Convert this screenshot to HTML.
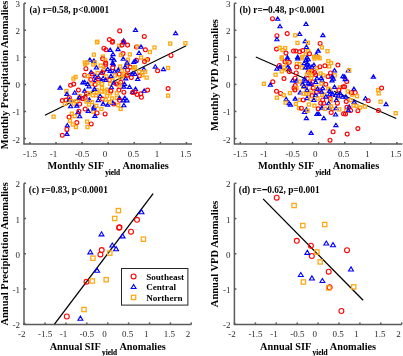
<!DOCTYPE html>
<html><head><meta charset="utf-8"><style>
html,body{margin:0;padding:0;background:#fff;width:403px;height:356px;overflow:hidden}
svg{display:block;will-change:transform;filter:blur(0.35px);font-family:"Liberation Serif",serif}
</style></head><body>
<svg width="403" height="356" viewBox="0 0 403 356">
<line x1="24.00" y1="3.20" x2="24.00" y2="144.40" stroke="#5a5a5a" stroke-width="1.5"/>
<line x1="23.50" y1="143.90" x2="192.00" y2="143.90" stroke="#5a5a5a" stroke-width="1.5"/>
<line x1="24.00" y1="3.22" x2="26.00" y2="3.22" stroke="#5a5a5a" stroke-width="1.5"/>
<text x="20.00" y="7.22" font-size="9" text-anchor="end" font-weight="normal" fill="#2a2a2a" >3</text>
<line x1="24.00" y1="30.28" x2="26.00" y2="30.28" stroke="#5a5a5a" stroke-width="1.5"/>
<text x="20.00" y="34.28" font-size="9" text-anchor="end" font-weight="normal" fill="#2a2a2a" >2</text>
<line x1="24.00" y1="57.34" x2="26.00" y2="57.34" stroke="#5a5a5a" stroke-width="1.5"/>
<text x="20.00" y="61.34" font-size="9" text-anchor="end" font-weight="normal" fill="#2a2a2a" >1</text>
<line x1="24.00" y1="84.40" x2="26.00" y2="84.40" stroke="#5a5a5a" stroke-width="1.5"/>
<text x="20.00" y="88.40" font-size="9" text-anchor="end" font-weight="normal" fill="#2a2a2a" >0</text>
<line x1="24.00" y1="111.46" x2="26.00" y2="111.46" stroke="#5a5a5a" stroke-width="1.5"/>
<text x="20.00" y="115.46" font-size="9" text-anchor="end" font-weight="normal" fill="#2a2a2a" >-1</text>
<line x1="24.00" y1="138.52" x2="26.00" y2="138.52" stroke="#5a5a5a" stroke-width="1.5"/>
<text x="20.00" y="142.52" font-size="9" text-anchor="end" font-weight="normal" fill="#2a2a2a" >-2</text>
<line x1="29.90" y1="143.90" x2="29.90" y2="141.90" stroke="#5a5a5a" stroke-width="1.5"/>
<text x="30.00" y="156.90" font-size="9" text-anchor="middle" font-weight="normal" fill="#2a2a2a" >-1.5</text>
<line x1="56.00" y1="143.90" x2="56.00" y2="141.90" stroke="#5a5a5a" stroke-width="1.5"/>
<text x="53.60" y="156.90" font-size="9" text-anchor="middle" font-weight="normal" fill="#2a2a2a" >-1</text>
<line x1="82.10" y1="143.90" x2="82.10" y2="141.90" stroke="#5a5a5a" stroke-width="1.5"/>
<text x="82.20" y="156.90" font-size="9" text-anchor="middle" font-weight="normal" fill="#2a2a2a" >-0.5</text>
<line x1="108.20" y1="143.90" x2="108.20" y2="141.90" stroke="#5a5a5a" stroke-width="1.5"/>
<text x="104.90" y="156.90" font-size="9" text-anchor="middle" font-weight="normal" fill="#2a2a2a" >0</text>
<line x1="134.30" y1="143.90" x2="134.30" y2="141.90" stroke="#5a5a5a" stroke-width="1.5"/>
<text x="133.30" y="156.90" font-size="9" text-anchor="middle" font-weight="normal" fill="#2a2a2a" >0.5</text>
<line x1="160.40" y1="143.90" x2="160.40" y2="141.90" stroke="#5a5a5a" stroke-width="1.5"/>
<text x="157.10" y="156.90" font-size="9" text-anchor="middle" font-weight="normal" fill="#2a2a2a" >1</text>
<line x1="186.50" y1="143.90" x2="186.50" y2="141.90" stroke="#5a5a5a" stroke-width="1.5"/>
<text x="185.50" y="156.90" font-size="9" text-anchor="middle" font-weight="normal" fill="#2a2a2a" >1.5</text>
<line x1="234.40" y1="3.20" x2="234.40" y2="144.40" stroke="#5a5a5a" stroke-width="1.5"/>
<line x1="233.90" y1="143.90" x2="402.40" y2="143.90" stroke="#5a5a5a" stroke-width="1.5"/>
<line x1="234.40" y1="3.22" x2="236.40" y2="3.22" stroke="#5a5a5a" stroke-width="1.5"/>
<text x="230.40" y="7.22" font-size="9" text-anchor="end" font-weight="normal" fill="#2a2a2a" >3</text>
<line x1="234.40" y1="30.28" x2="236.40" y2="30.28" stroke="#5a5a5a" stroke-width="1.5"/>
<text x="230.40" y="34.28" font-size="9" text-anchor="end" font-weight="normal" fill="#2a2a2a" >2</text>
<line x1="234.40" y1="57.34" x2="236.40" y2="57.34" stroke="#5a5a5a" stroke-width="1.5"/>
<text x="230.40" y="61.34" font-size="9" text-anchor="end" font-weight="normal" fill="#2a2a2a" >1</text>
<line x1="234.40" y1="84.40" x2="236.40" y2="84.40" stroke="#5a5a5a" stroke-width="1.5"/>
<text x="230.40" y="88.40" font-size="9" text-anchor="end" font-weight="normal" fill="#2a2a2a" >0</text>
<line x1="234.40" y1="111.46" x2="236.40" y2="111.46" stroke="#5a5a5a" stroke-width="1.5"/>
<text x="230.40" y="115.46" font-size="9" text-anchor="end" font-weight="normal" fill="#2a2a2a" >-1</text>
<line x1="234.40" y1="138.52" x2="236.40" y2="138.52" stroke="#5a5a5a" stroke-width="1.5"/>
<text x="230.40" y="142.52" font-size="9" text-anchor="end" font-weight="normal" fill="#2a2a2a" >-2</text>
<line x1="240.30" y1="143.90" x2="240.30" y2="141.90" stroke="#5a5a5a" stroke-width="1.5"/>
<text x="240.40" y="156.90" font-size="9" text-anchor="middle" font-weight="normal" fill="#2a2a2a" >-1.5</text>
<line x1="266.40" y1="143.90" x2="266.40" y2="141.90" stroke="#5a5a5a" stroke-width="1.5"/>
<text x="264.00" y="156.90" font-size="9" text-anchor="middle" font-weight="normal" fill="#2a2a2a" >-1</text>
<line x1="292.50" y1="143.90" x2="292.50" y2="141.90" stroke="#5a5a5a" stroke-width="1.5"/>
<text x="292.60" y="156.90" font-size="9" text-anchor="middle" font-weight="normal" fill="#2a2a2a" >-0.5</text>
<line x1="318.60" y1="143.90" x2="318.60" y2="141.90" stroke="#5a5a5a" stroke-width="1.5"/>
<text x="315.30" y="156.90" font-size="9" text-anchor="middle" font-weight="normal" fill="#2a2a2a" >0</text>
<line x1="344.70" y1="143.90" x2="344.70" y2="141.90" stroke="#5a5a5a" stroke-width="1.5"/>
<text x="343.70" y="156.90" font-size="9" text-anchor="middle" font-weight="normal" fill="#2a2a2a" >0.5</text>
<line x1="370.80" y1="143.90" x2="370.80" y2="141.90" stroke="#5a5a5a" stroke-width="1.5"/>
<text x="367.50" y="156.90" font-size="9" text-anchor="middle" font-weight="normal" fill="#2a2a2a" >1</text>
<line x1="396.90" y1="143.90" x2="396.90" y2="141.90" stroke="#5a5a5a" stroke-width="1.5"/>
<text x="395.90" y="156.90" font-size="9" text-anchor="middle" font-weight="normal" fill="#2a2a2a" >1.5</text>
<line x1="24.00" y1="183.30" x2="24.00" y2="324.90" stroke="#5a5a5a" stroke-width="1.5"/>
<line x1="23.50" y1="324.40" x2="191.40" y2="324.40" stroke="#5a5a5a" stroke-width="1.5"/>
<line x1="24.00" y1="183.30" x2="26.00" y2="183.30" stroke="#5a5a5a" stroke-width="1.5"/>
<text x="20.00" y="187.30" font-size="9" text-anchor="end" font-weight="normal" fill="#2a2a2a" >2</text>
<line x1="24.00" y1="218.55" x2="26.00" y2="218.55" stroke="#5a5a5a" stroke-width="1.5"/>
<text x="20.00" y="222.55" font-size="9" text-anchor="end" font-weight="normal" fill="#2a2a2a" >1</text>
<line x1="24.00" y1="253.80" x2="26.00" y2="253.80" stroke="#5a5a5a" stroke-width="1.5"/>
<text x="20.00" y="257.80" font-size="9" text-anchor="end" font-weight="normal" fill="#2a2a2a" >0</text>
<line x1="24.00" y1="289.05" x2="26.00" y2="289.05" stroke="#5a5a5a" stroke-width="1.5"/>
<text x="20.00" y="293.05" font-size="9" text-anchor="end" font-weight="normal" fill="#2a2a2a" >-1</text>
<line x1="24.00" y1="324.30" x2="26.00" y2="324.30" stroke="#5a5a5a" stroke-width="1.5"/>
<text x="20.00" y="328.30" font-size="9" text-anchor="end" font-weight="normal" fill="#2a2a2a" >-2</text>
<line x1="24.10" y1="324.40" x2="24.10" y2="322.40" stroke="#5a5a5a" stroke-width="1.5"/>
<text x="21.70" y="337.40" font-size="9" text-anchor="middle" font-weight="normal" fill="#2a2a2a" >-2</text>
<line x1="45.00" y1="324.40" x2="45.00" y2="322.40" stroke="#5a5a5a" stroke-width="1.5"/>
<text x="45.10" y="337.40" font-size="9" text-anchor="middle" font-weight="normal" fill="#2a2a2a" >-1.5</text>
<line x1="65.90" y1="324.40" x2="65.90" y2="322.40" stroke="#5a5a5a" stroke-width="1.5"/>
<text x="63.50" y="337.40" font-size="9" text-anchor="middle" font-weight="normal" fill="#2a2a2a" >-1</text>
<line x1="86.80" y1="324.40" x2="86.80" y2="322.40" stroke="#5a5a5a" stroke-width="1.5"/>
<text x="86.90" y="337.40" font-size="9" text-anchor="middle" font-weight="normal" fill="#2a2a2a" >-0.5</text>
<line x1="107.70" y1="324.40" x2="107.70" y2="322.40" stroke="#5a5a5a" stroke-width="1.5"/>
<text x="104.40" y="337.40" font-size="9" text-anchor="middle" font-weight="normal" fill="#2a2a2a" >0</text>
<line x1="128.60" y1="324.40" x2="128.60" y2="322.40" stroke="#5a5a5a" stroke-width="1.5"/>
<text x="127.60" y="337.40" font-size="9" text-anchor="middle" font-weight="normal" fill="#2a2a2a" >0.5</text>
<line x1="149.50" y1="324.40" x2="149.50" y2="322.40" stroke="#5a5a5a" stroke-width="1.5"/>
<text x="146.20" y="337.40" font-size="9" text-anchor="middle" font-weight="normal" fill="#2a2a2a" >1</text>
<line x1="170.40" y1="324.40" x2="170.40" y2="322.40" stroke="#5a5a5a" stroke-width="1.5"/>
<text x="169.40" y="337.40" font-size="9" text-anchor="middle" font-weight="normal" fill="#2a2a2a" >1.5</text>
<line x1="191.30" y1="324.40" x2="191.30" y2="322.40" stroke="#5a5a5a" stroke-width="1.5"/>
<text x="188.00" y="337.40" font-size="9" text-anchor="middle" font-weight="normal" fill="#2a2a2a" >2</text>
<line x1="234.40" y1="183.30" x2="234.40" y2="324.90" stroke="#5a5a5a" stroke-width="1.5"/>
<line x1="233.90" y1="324.40" x2="401.80" y2="324.40" stroke="#5a5a5a" stroke-width="1.5"/>
<line x1="234.40" y1="183.30" x2="236.40" y2="183.30" stroke="#5a5a5a" stroke-width="1.5"/>
<text x="230.40" y="187.30" font-size="9" text-anchor="end" font-weight="normal" fill="#2a2a2a" >2</text>
<line x1="234.40" y1="218.55" x2="236.40" y2="218.55" stroke="#5a5a5a" stroke-width="1.5"/>
<text x="230.40" y="222.55" font-size="9" text-anchor="end" font-weight="normal" fill="#2a2a2a" >1</text>
<line x1="234.40" y1="253.80" x2="236.40" y2="253.80" stroke="#5a5a5a" stroke-width="1.5"/>
<text x="230.40" y="257.80" font-size="9" text-anchor="end" font-weight="normal" fill="#2a2a2a" >0</text>
<line x1="234.40" y1="289.05" x2="236.40" y2="289.05" stroke="#5a5a5a" stroke-width="1.5"/>
<text x="230.40" y="293.05" font-size="9" text-anchor="end" font-weight="normal" fill="#2a2a2a" >-1</text>
<line x1="234.40" y1="324.30" x2="236.40" y2="324.30" stroke="#5a5a5a" stroke-width="1.5"/>
<text x="230.40" y="328.30" font-size="9" text-anchor="end" font-weight="normal" fill="#2a2a2a" >-2</text>
<line x1="234.50" y1="324.40" x2="234.50" y2="322.40" stroke="#5a5a5a" stroke-width="1.5"/>
<text x="232.10" y="337.40" font-size="9" text-anchor="middle" font-weight="normal" fill="#2a2a2a" >-2</text>
<line x1="255.40" y1="324.40" x2="255.40" y2="322.40" stroke="#5a5a5a" stroke-width="1.5"/>
<text x="255.50" y="337.40" font-size="9" text-anchor="middle" font-weight="normal" fill="#2a2a2a" >-1.5</text>
<line x1="276.30" y1="324.40" x2="276.30" y2="322.40" stroke="#5a5a5a" stroke-width="1.5"/>
<text x="273.90" y="337.40" font-size="9" text-anchor="middle" font-weight="normal" fill="#2a2a2a" >-1</text>
<line x1="297.20" y1="324.40" x2="297.20" y2="322.40" stroke="#5a5a5a" stroke-width="1.5"/>
<text x="297.30" y="337.40" font-size="9" text-anchor="middle" font-weight="normal" fill="#2a2a2a" >-0.5</text>
<line x1="318.10" y1="324.40" x2="318.10" y2="322.40" stroke="#5a5a5a" stroke-width="1.5"/>
<text x="314.80" y="337.40" font-size="9" text-anchor="middle" font-weight="normal" fill="#2a2a2a" >0</text>
<line x1="339.00" y1="324.40" x2="339.00" y2="322.40" stroke="#5a5a5a" stroke-width="1.5"/>
<text x="338.00" y="337.40" font-size="9" text-anchor="middle" font-weight="normal" fill="#2a2a2a" >0.5</text>
<line x1="359.90" y1="324.40" x2="359.90" y2="322.40" stroke="#5a5a5a" stroke-width="1.5"/>
<text x="356.60" y="337.40" font-size="9" text-anchor="middle" font-weight="normal" fill="#2a2a2a" >1</text>
<line x1="380.80" y1="324.40" x2="380.80" y2="322.40" stroke="#5a5a5a" stroke-width="1.5"/>
<text x="379.80" y="337.40" font-size="9" text-anchor="middle" font-weight="normal" fill="#2a2a2a" >1.5</text>
<line x1="401.70" y1="324.40" x2="401.70" y2="322.40" stroke="#5a5a5a" stroke-width="1.5"/>
<text x="398.40" y="337.40" font-size="9" text-anchor="middle" font-weight="normal" fill="#2a2a2a" >2</text>
<line x1="44.90" y1="115.30" x2="94.00" y2="91.10" stroke="#000" stroke-width="1.15"/>
<line x1="112.00" y1="82.20" x2="186.20" y2="45.70" stroke="#000" stroke-width="1.15"/>
<line x1="54.50" y1="324.20" x2="153.10" y2="193.70" stroke="#000" stroke-width="1.3"/>
<line x1="263.10" y1="198.90" x2="363.10" y2="300.20" stroke="#000" stroke-width="1.3"/>
<line x1="255.80" y1="57.00" x2="306.00" y2="79.00" stroke="#000" stroke-width="1.15"/>
<line x1="334.00" y1="91.20" x2="396.30" y2="118.50" stroke="#000" stroke-width="1.15"/>
<text x="29.50" y="12.80" font-size="9.3" text-anchor="start" font-weight="bold" fill="#000" >(a) r=0.58, p&lt;0.0001</text>
<text x="239.60" y="12.80" font-size="9.3" text-anchor="start" font-weight="bold" fill="#000" >(b) r=<tspan stroke="#000" stroke-width="0.6">&#8722;</tspan>0.48, p&lt;0.0001</text>
<text x="28.80" y="192.80" font-size="9.3" text-anchor="start" font-weight="bold" fill="#000" >(c) r=0.83, p&lt;0.0001</text>
<text x="238.80" y="192.80" font-size="9.3" text-anchor="start" font-weight="bold" fill="#000" >(d) r=<tspan stroke="#000" stroke-width="0.6">&#8722;</tspan>0.62, p=0.001</text>
<text x="108.20" y="168.80" font-size="10.3" font-weight="bold" text-anchor="middle" fill="#000">Monthly SIF<tspan dx="1.2" font-size="7.3" dy="5.9" stroke="#000" stroke-width="0.15">yield</tspan><tspan dy="-5.9" dx="0.3"> Anomalies</tspan></text>
<text x="318.60" y="168.80" font-size="10.3" font-weight="bold" text-anchor="middle" fill="#000">Monthly SIF<tspan dx="1.2" font-size="7.3" dy="5.9" stroke="#000" stroke-width="0.15">yield</tspan><tspan dy="-5.9" dx="0.3"> Anomalies</tspan></text>
<text x="107.70" y="349.50" font-size="10.3" font-weight="bold" text-anchor="middle" fill="#000">Annual SIF<tspan dx="1.2" font-size="7.3" dy="5.9" stroke="#000" stroke-width="0.15">yield</tspan><tspan dy="-5.9" dx="0.3"> Anomalies</tspan></text>
<text x="318.10" y="349.50" font-size="10.3" font-weight="bold" text-anchor="middle" fill="#000">Annual SIF<tspan dx="1.2" font-size="7.3" dy="5.9" stroke="#000" stroke-width="0.15">yield</tspan><tspan dy="-5.9" dx="0.3"> Anomalies</tspan></text>
<text x="0" y="0" font-size="10.5" font-weight="bold" text-anchor="middle" fill="#000" transform="translate(7.90,75.00) rotate(-90)">Monthly Precipitation Anomalies</text>
<text x="0" y="0" font-size="10.5" font-weight="bold" text-anchor="middle" fill="#000" transform="translate(218.30,75.00) rotate(-90)">Monthly VPD Anomalies</text>
<text x="0" y="0" font-size="10.5" font-weight="bold" text-anchor="middle" fill="#000" transform="translate(7.90,253.90) rotate(-90)">Annual Precipitation Anomalies</text>
<text x="0" y="0" font-size="10.5" font-weight="bold" text-anchor="middle" fill="#000" transform="translate(218.30,253.90) rotate(-90)">Annual VPD Anomalies</text>
<circle cx="119.7" cy="30.9" r="1.95" fill="none" stroke="#ff0000" stroke-width="1.15"/>
<rect x="95.80" y="40.20" width="3.0" height="3.0" fill="none" stroke="#ffa812" stroke-width="1.32"/>
<circle cx="109.4" cy="39.6" r="1.95" fill="none" stroke="#ff0000" stroke-width="1.15"/>
<circle cx="112.5" cy="41.3" r="1.95" fill="none" stroke="#ff0000" stroke-width="1.15"/>
<path d="M123.70 38.75L125.75 42.05L121.65 42.05Z" fill="none" stroke="#0000ff" stroke-width="1.15"/>
<circle cx="123.5" cy="41.7" r="1.95" fill="none" stroke="#ff0000" stroke-width="1.15"/>
<path d="M135.50 28.15L137.55 31.45L133.45 31.45Z" fill="none" stroke="#0000ff" stroke-width="1.15"/>
<path d="M175.60 31.25L177.65 34.55L173.55 34.55Z" fill="none" stroke="#0000ff" stroke-width="1.15"/>
<circle cx="144.3" cy="36.4" r="1.95" fill="none" stroke="#ff0000" stroke-width="1.15"/>
<rect x="168.70" y="42.10" width="3.0" height="3.0" fill="none" stroke="#ffa812" stroke-width="1.32"/>
<rect x="183.90" y="41.70" width="3.0" height="3.0" fill="none" stroke="#ffa812" stroke-width="1.32"/>
<circle cx="136.5" cy="47.0" r="1.95" fill="none" stroke="#ff0000" stroke-width="1.15"/>
<rect x="136.00" y="45.20" width="3.0" height="3.0" fill="none" stroke="#ffa812" stroke-width="1.32"/>
<path d="M141.10 44.95L143.15 48.25L139.05 48.25Z" fill="none" stroke="#0000ff" stroke-width="1.15"/>
<rect x="153.00" y="46.00" width="3.0" height="3.0" fill="none" stroke="#ffa812" stroke-width="1.32"/>
<circle cx="145.4" cy="49.8" r="1.95" fill="none" stroke="#ff0000" stroke-width="1.15"/>
<rect x="148.40" y="50.50" width="3.0" height="3.0" fill="none" stroke="#ffa812" stroke-width="1.32"/>
<path d="M139.00 51.15L141.05 54.45L136.95 54.45Z" fill="none" stroke="#0000ff" stroke-width="1.15"/>
<circle cx="171.0" cy="55.4" r="1.95" fill="none" stroke="#ff0000" stroke-width="1.15"/>
<rect x="139.60" y="56.00" width="3.0" height="3.0" fill="none" stroke="#ffa812" stroke-width="1.32"/>
<circle cx="147.6" cy="59.5" r="1.95" fill="none" stroke="#ff0000" stroke-width="1.15"/>
<rect x="144.90" y="58.50" width="3.0" height="3.0" fill="none" stroke="#ffa812" stroke-width="1.32"/>
<circle cx="144.5" cy="61.6" r="1.95" fill="none" stroke="#ff0000" stroke-width="1.15"/>
<circle cx="136.5" cy="60.3" r="1.95" fill="none" stroke="#ff0000" stroke-width="1.15"/>
<path d="M135.50 58.95L137.55 62.25L133.45 62.25Z" fill="none" stroke="#0000ff" stroke-width="1.15"/>
<rect x="133.50" y="65.60" width="3.0" height="3.0" fill="none" stroke="#ffa812" stroke-width="1.32"/>
<path d="M143.90 67.25L145.95 70.55L141.85 70.55Z" fill="none" stroke="#0000ff" stroke-width="1.15"/>
<rect x="137.50" y="70.20" width="3.0" height="3.0" fill="none" stroke="#ffa812" stroke-width="1.32"/>
<rect x="140.60" y="70.90" width="3.0" height="3.0" fill="none" stroke="#ffa812" stroke-width="1.32"/>
<rect x="143.70" y="70.20" width="3.0" height="3.0" fill="none" stroke="#ffa812" stroke-width="1.32"/>
<path d="M135.00 72.15L137.05 75.45L132.95 75.45Z" fill="none" stroke="#0000ff" stroke-width="1.15"/>
<circle cx="139.6" cy="75.8" r="1.95" fill="none" stroke="#ff0000" stroke-width="1.15"/>
<rect x="140.90" y="73.70" width="3.0" height="3.0" fill="none" stroke="#ffa812" stroke-width="1.32"/>
<path d="M137.70 77.15L139.75 80.45L135.65 80.45Z" fill="none" stroke="#0000ff" stroke-width="1.15"/>
<rect x="145.20" y="76.10" width="3.0" height="3.0" fill="none" stroke="#ffa812" stroke-width="1.32"/>
<path d="M155.30 64.75L157.35 68.05L153.25 68.05Z" fill="none" stroke="#0000ff" stroke-width="1.15"/>
<circle cx="157.6" cy="70.8" r="1.95" fill="none" stroke="#ff0000" stroke-width="1.15"/>
<path d="M163.40 67.25L165.45 70.55L161.35 70.55Z" fill="none" stroke="#0000ff" stroke-width="1.15"/>
<rect x="166.60" y="66.50" width="3.0" height="3.0" fill="none" stroke="#ffa812" stroke-width="1.32"/>
<path d="M135.50 87.05L137.55 90.35L133.45 90.35Z" fill="none" stroke="#0000ff" stroke-width="1.15"/>
<circle cx="135.0" cy="91.9" r="1.95" fill="none" stroke="#ff0000" stroke-width="1.15"/>
<circle cx="137.1" cy="94.4" r="1.95" fill="none" stroke="#ff0000" stroke-width="1.15"/>
<circle cx="140.8" cy="93.8" r="1.95" fill="none" stroke="#ff0000" stroke-width="1.15"/>
<path d="M144.20 88.95L146.25 92.25L142.15 92.25Z" fill="none" stroke="#0000ff" stroke-width="1.15"/>
<circle cx="147.6" cy="90.1" r="1.95" fill="none" stroke="#ff0000" stroke-width="1.15"/>
<circle cx="141.4" cy="97.3" r="1.95" fill="none" stroke="#ff0000" stroke-width="1.15"/>
<circle cx="168.1" cy="88.6" r="1.95" fill="none" stroke="#ff0000" stroke-width="1.15"/>
<rect x="166.60" y="94.10" width="3.0" height="3.0" fill="none" stroke="#ffa812" stroke-width="1.32"/>
<rect x="72.00" y="77.10" width="3.0" height="3.0" fill="none" stroke="#ffa812" stroke-width="1.32"/>
<rect x="74.10" y="75.50" width="3.0" height="3.0" fill="none" stroke="#ffa812" stroke-width="1.32"/>
<circle cx="70.6" cy="85.3" r="1.95" fill="none" stroke="#ff0000" stroke-width="1.15"/>
<circle cx="73.7" cy="84.1" r="1.95" fill="none" stroke="#ff0000" stroke-width="1.15"/>
<path d="M60.10 85.85L62.15 89.15L58.05 89.15Z" fill="none" stroke="#0000ff" stroke-width="1.15"/>
<rect x="65.00" y="89.50" width="3.0" height="3.0" fill="none" stroke="#ffa812" stroke-width="1.32"/>
<path d="M66.90 92.05L68.95 95.35L64.85 95.35Z" fill="none" stroke="#0000ff" stroke-width="1.15"/>
<circle cx="78.4" cy="90.1" r="1.95" fill="none" stroke="#ff0000" stroke-width="1.15"/>
<path d="M74.70 90.75L76.75 94.05L72.65 94.05Z" fill="none" stroke="#0000ff" stroke-width="1.15"/>
<path d="M82.80 80.65L84.85 83.95L80.75 83.95Z" fill="none" stroke="#0000ff" stroke-width="1.15"/>
<circle cx="62.3" cy="100.6" r="1.95" fill="none" stroke="#ff0000" stroke-width="1.15"/>
<circle cx="66.0" cy="100.0" r="1.95" fill="none" stroke="#ff0000" stroke-width="1.15"/>
<path d="M69.40 97.65L71.45 100.95L67.35 100.95Z" fill="none" stroke="#0000ff" stroke-width="1.15"/>
<circle cx="69.4" cy="97.7" r="1.95" fill="none" stroke="#ff0000" stroke-width="1.15"/>
<rect x="69.70" y="99.70" width="3.0" height="3.0" fill="none" stroke="#ffa812" stroke-width="1.32"/>
<rect x="74.70" y="99.70" width="3.0" height="3.0" fill="none" stroke="#ffa812" stroke-width="1.32"/>
<rect x="78.20" y="94.50" width="3.0" height="3.0" fill="none" stroke="#ffa812" stroke-width="1.32"/>
<circle cx="79.9" cy="98.1" r="1.95" fill="none" stroke="#ff0000" stroke-width="1.15"/>
<path d="M79.30 95.55L81.35 98.85L77.25 98.85Z" fill="none" stroke="#0000ff" stroke-width="1.15"/>
<circle cx="83.0" cy="98.7" r="1.95" fill="none" stroke="#ff0000" stroke-width="1.15"/>
<rect x="63.50" y="102.50" width="3.0" height="3.0" fill="none" stroke="#ffa812" stroke-width="1.32"/>
<rect x="72.20" y="102.20" width="3.0" height="3.0" fill="none" stroke="#ffa812" stroke-width="1.32"/>
<circle cx="79.7" cy="104.0" r="1.95" fill="none" stroke="#ff0000" stroke-width="1.15"/>
<path d="M70.60 104.45L72.65 107.75L68.55 107.75Z" fill="none" stroke="#0000ff" stroke-width="1.15"/>
<path d="M76.80 103.85L78.85 107.15L74.75 107.15Z" fill="none" stroke="#0000ff" stroke-width="1.15"/>
<rect x="52.10" y="115.20" width="3.0" height="3.0" fill="none" stroke="#ffa812" stroke-width="1.32"/>
<rect x="70.30" y="112.20" width="3.0" height="3.0" fill="none" stroke="#ffa812" stroke-width="1.32"/>
<rect x="73.20" y="114.70" width="3.0" height="3.0" fill="none" stroke="#ffa812" stroke-width="1.32"/>
<path d="M78.00 110.35L80.05 113.65L75.95 113.65Z" fill="none" stroke="#0000ff" stroke-width="1.15"/>
<circle cx="78.9" cy="111.2" r="1.95" fill="none" stroke="#ff0000" stroke-width="1.15"/>
<path d="M79.70 114.45L81.75 117.75L77.65 117.75Z" fill="none" stroke="#0000ff" stroke-width="1.15"/>
<circle cx="69.1" cy="117.0" r="1.95" fill="none" stroke="#ff0000" stroke-width="1.15"/>
<rect x="68.50" y="119.20" width="3.0" height="3.0" fill="none" stroke="#ffa812" stroke-width="1.32"/>
<circle cx="76.8" cy="122.6" r="1.95" fill="none" stroke="#ff0000" stroke-width="1.15"/>
<rect x="71.20" y="123.00" width="3.0" height="3.0" fill="none" stroke="#ffa812" stroke-width="1.32"/>
<rect x="74.40" y="125.50" width="3.0" height="3.0" fill="none" stroke="#ffa812" stroke-width="1.32"/>
<path d="M67.30 123.55L69.35 126.85L65.25 126.85Z" fill="none" stroke="#0000ff" stroke-width="1.15"/>
<circle cx="66.9" cy="129.4" r="1.95" fill="none" stroke="#ff0000" stroke-width="1.15"/>
<path d="M66.90 132.05L68.95 135.35L64.85 135.35Z" fill="none" stroke="#0000ff" stroke-width="1.15"/>
<circle cx="62.3" cy="135.3" r="1.95" fill="none" stroke="#ff0000" stroke-width="1.15"/>
<circle cx="85.2" cy="109.0" r="1.95" fill="none" stroke="#ff0000" stroke-width="1.15"/>
<path d="M88.30 109.05L90.35 112.35L86.25 112.35Z" fill="none" stroke="#0000ff" stroke-width="1.15"/>
<rect x="91.80" y="110.20" width="3.0" height="3.0" fill="none" stroke="#ffa812" stroke-width="1.32"/>
<path d="M93.90 106.55L95.95 109.85L91.85 109.85Z" fill="none" stroke="#0000ff" stroke-width="1.15"/>
<circle cx="97.0" cy="112.9" r="1.95" fill="none" stroke="#ff0000" stroke-width="1.15"/>
<path d="M94.90 114.05L96.95 117.35L92.85 117.35Z" fill="none" stroke="#0000ff" stroke-width="1.15"/>
<circle cx="105.1" cy="113.9" r="1.95" fill="none" stroke="#ff0000" stroke-width="1.15"/>
<rect x="99.90" y="107.50" width="3.0" height="3.0" fill="none" stroke="#ffa812" stroke-width="1.32"/>
<rect x="119.10" y="107.50" width="3.0" height="3.0" fill="none" stroke="#ffa812" stroke-width="1.32"/>
<rect x="85.60" y="120.10" width="3.0" height="3.0" fill="none" stroke="#ffa812" stroke-width="1.32"/>
<circle cx="91.2" cy="123.9" r="1.95" fill="none" stroke="#ff0000" stroke-width="1.15"/>
<rect x="86.00" y="125.50" width="3.0" height="3.0" fill="none" stroke="#ffa812" stroke-width="1.32"/>
<rect x="83.70" y="62.80" width="3.0" height="3.0" fill="none" stroke="#ffa812" stroke-width="1.32"/>
<rect x="91.80" y="63.10" width="3.0" height="3.0" fill="none" stroke="#ffa812" stroke-width="1.32"/>
<rect x="99.20" y="64.10" width="3.0" height="3.0" fill="none" stroke="#ffa812" stroke-width="1.32"/>
<circle cx="105.7" cy="64.6" r="1.95" fill="none" stroke="#ff0000" stroke-width="1.15"/>
<circle cx="85.9" cy="68.7" r="1.95" fill="none" stroke="#ff0000" stroke-width="1.15"/>
<path d="M96.40 65.65L98.45 68.95L94.35 68.95Z" fill="none" stroke="#0000ff" stroke-width="1.15"/>
<circle cx="103.9" cy="69.9" r="1.95" fill="none" stroke="#ff0000" stroke-width="1.15"/>
<rect x="102.40" y="67.50" width="3.0" height="3.0" fill="none" stroke="#ffa812" stroke-width="1.32"/>
<path d="M107.60 67.25L109.65 70.55L105.55 70.55Z" fill="none" stroke="#0000ff" stroke-width="1.15"/>
<path d="M91.10 70.35L93.15 73.65L89.05 73.65Z" fill="none" stroke="#0000ff" stroke-width="1.15"/>
<circle cx="92.1" cy="73.9" r="1.95" fill="none" stroke="#ff0000" stroke-width="1.15"/>
<rect x="96.10" y="71.50" width="3.0" height="3.0" fill="none" stroke="#ffa812" stroke-width="1.32"/>
<path d="M101.40 70.95L103.45 74.25L99.35 74.25Z" fill="none" stroke="#0000ff" stroke-width="1.15"/>
<circle cx="102.6" cy="72.7" r="1.95" fill="none" stroke="#ff0000" stroke-width="1.15"/>
<circle cx="84.6" cy="75.2" r="1.95" fill="none" stroke="#ff0000" stroke-width="1.15"/>
<rect x="85.90" y="74.60" width="3.0" height="3.0" fill="none" stroke="#ffa812" stroke-width="1.32"/>
<path d="M95.20 74.65L97.25 77.95L93.15 77.95Z" fill="none" stroke="#0000ff" stroke-width="1.15"/>
<path d="M98.30 75.25L100.35 78.55L96.25 78.55Z" fill="none" stroke="#0000ff" stroke-width="1.15"/>
<path d="M103.20 76.25L105.25 79.55L101.15 79.55Z" fill="none" stroke="#0000ff" stroke-width="1.15"/>
<rect x="104.80" y="74.90" width="3.0" height="3.0" fill="none" stroke="#ffa812" stroke-width="1.32"/>
<circle cx="90.8" cy="79.5" r="1.95" fill="none" stroke="#ff0000" stroke-width="1.15"/>
<path d="M95.50 78.05L97.55 81.35L93.45 81.35Z" fill="none" stroke="#0000ff" stroke-width="1.15"/>
<circle cx="98.3" cy="78.9" r="1.95" fill="none" stroke="#ff0000" stroke-width="1.15"/>
<path d="M101.40 78.95L103.45 82.25L99.35 82.25Z" fill="none" stroke="#0000ff" stroke-width="1.15"/>
<path d="M105.70 78.05L107.75 81.35L103.65 81.35Z" fill="none" stroke="#0000ff" stroke-width="1.15"/>
<path d="M87.70 82.15L89.75 85.45L85.65 85.45Z" fill="none" stroke="#0000ff" stroke-width="1.15"/>
<rect x="89.90" y="82.40" width="3.0" height="3.0" fill="none" stroke="#ffa812" stroke-width="1.32"/>
<circle cx="95.2" cy="84.5" r="1.95" fill="none" stroke="#ff0000" stroke-width="1.15"/>
<rect x="96.80" y="81.70" width="3.0" height="3.0" fill="none" stroke="#ffa812" stroke-width="1.32"/>
<rect x="100.50" y="82.40" width="3.0" height="3.0" fill="none" stroke="#ffa812" stroke-width="1.32"/>
<path d="M84.60 80.25L86.65 83.55L82.55 83.55Z" fill="none" stroke="#0000ff" stroke-width="1.15"/>
<path d="M113.30 62.55L115.35 65.85L111.25 65.85Z" fill="none" stroke="#0000ff" stroke-width="1.15"/>
<rect x="126.10" y="62.80" width="3.0" height="3.0" fill="none" stroke="#ffa812" stroke-width="1.32"/>
<circle cx="112.7" cy="67.7" r="1.95" fill="none" stroke="#ff0000" stroke-width="1.15"/>
<rect x="118.70" y="65.00" width="3.0" height="3.0" fill="none" stroke="#ffa812" stroke-width="1.32"/>
<path d="M125.10 65.05L127.15 68.35L123.05 68.35Z" fill="none" stroke="#0000ff" stroke-width="1.15"/>
<circle cx="130.1" cy="67.1" r="1.95" fill="none" stroke="#ff0000" stroke-width="1.15"/>
<rect x="132.00" y="66.80" width="3.0" height="3.0" fill="none" stroke="#ffa812" stroke-width="1.32"/>
<path d="M118.30 67.85L120.35 71.15L116.25 71.15Z" fill="none" stroke="#0000ff" stroke-width="1.15"/>
<rect x="120.50" y="69.30" width="3.0" height="3.0" fill="none" stroke="#ffa812" stroke-width="1.32"/>
<circle cx="127.6" cy="70.2" r="1.95" fill="none" stroke="#ff0000" stroke-width="1.15"/>
<path d="M110.20 69.05L112.25 72.35L108.15 72.35Z" fill="none" stroke="#0000ff" stroke-width="1.15"/>
<path d="M114.60 69.65L116.65 72.95L112.55 72.95Z" fill="none" stroke="#0000ff" stroke-width="1.15"/>
<circle cx="119.2" cy="74.2" r="1.95" fill="none" stroke="#ff0000" stroke-width="1.15"/>
<rect x="122.40" y="72.70" width="3.0" height="3.0" fill="none" stroke="#ffa812" stroke-width="1.32"/>
<rect x="113.40" y="74.00" width="3.0" height="3.0" fill="none" stroke="#ffa812" stroke-width="1.32"/>
<path d="M110.90 74.05L112.95 77.35L108.85 77.35Z" fill="none" stroke="#0000ff" stroke-width="1.15"/>
<rect x="119.00" y="76.50" width="3.0" height="3.0" fill="none" stroke="#ffa812" stroke-width="1.32"/>
<rect x="123.60" y="74.90" width="3.0" height="3.0" fill="none" stroke="#ffa812" stroke-width="1.32"/>
<path d="M125.70 76.55L127.75 79.85L123.65 79.85Z" fill="none" stroke="#0000ff" stroke-width="1.15"/>
<circle cx="131.3" cy="77.6" r="1.95" fill="none" stroke="#ff0000" stroke-width="1.15"/>
<path d="M132.30 71.85L134.35 75.15L130.25 75.15Z" fill="none" stroke="#0000ff" stroke-width="1.15"/>
<circle cx="127.0" cy="75.2" r="1.95" fill="none" stroke="#ff0000" stroke-width="1.15"/>
<circle cx="109.6" cy="80.1" r="1.95" fill="none" stroke="#ff0000" stroke-width="1.15"/>
<rect x="111.20" y="78.90" width="3.0" height="3.0" fill="none" stroke="#ffa812" stroke-width="1.32"/>
<rect x="108.70" y="82.40" width="3.0" height="3.0" fill="none" stroke="#ffa812" stroke-width="1.32"/>
<path d="M114.00 80.85L116.05 84.15L111.95 84.15Z" fill="none" stroke="#0000ff" stroke-width="1.15"/>
<circle cx="120.8" cy="82.3" r="1.95" fill="none" stroke="#ff0000" stroke-width="1.15"/>
<rect x="117.40" y="82.40" width="3.0" height="3.0" fill="none" stroke="#ffa812" stroke-width="1.32"/>
<path d="M124.50 82.15L126.55 85.45L122.45 85.45Z" fill="none" stroke="#0000ff" stroke-width="1.15"/>
<circle cx="116.4" cy="83.9" r="1.95" fill="none" stroke="#ff0000" stroke-width="1.15"/>
<rect x="95.50" y="40.80" width="3.0" height="3.0" fill="none" stroke="#ffa812" stroke-width="1.32"/>
<circle cx="103.9" cy="48.2" r="1.95" fill="none" stroke="#ff0000" stroke-width="1.15"/>
<circle cx="106.0" cy="49.8" r="1.95" fill="none" stroke="#ff0000" stroke-width="1.15"/>
<rect x="92.40" y="53.20" width="3.0" height="3.0" fill="none" stroke="#ffa812" stroke-width="1.32"/>
<rect x="101.40" y="55.10" width="3.0" height="3.0" fill="none" stroke="#ffa812" stroke-width="1.32"/>
<circle cx="102.6" cy="58.7" r="1.95" fill="none" stroke="#ff0000" stroke-width="1.15"/>
<rect x="103.90" y="58.80" width="3.0" height="3.0" fill="none" stroke="#ffa812" stroke-width="1.32"/>
<path d="M89.90 57.95L91.95 61.25L87.85 61.25Z" fill="none" stroke="#0000ff" stroke-width="1.15"/>
<path d="M93.90 58.85L95.95 62.15L91.85 62.15Z" fill="none" stroke="#0000ff" stroke-width="1.15"/>
<rect x="83.40" y="61.00" width="3.0" height="3.0" fill="none" stroke="#ffa812" stroke-width="1.32"/>
<rect x="85.60" y="61.00" width="3.0" height="3.0" fill="none" stroke="#ffa812" stroke-width="1.32"/>
<rect x="93.40" y="61.00" width="3.0" height="3.0" fill="none" stroke="#ffa812" stroke-width="1.32"/>
<circle cx="105.7" cy="63.1" r="1.95" fill="none" stroke="#ff0000" stroke-width="1.15"/>
<circle cx="112.4" cy="42.3" r="1.95" fill="none" stroke="#ff0000" stroke-width="1.15"/>
<path d="M123.30 40.55L125.35 43.85L121.25 43.85Z" fill="none" stroke="#0000ff" stroke-width="1.15"/>
<rect x="117.70" y="44.20" width="3.0" height="3.0" fill="none" stroke="#ffa812" stroke-width="1.32"/>
<circle cx="122.0" cy="45.1" r="1.95" fill="none" stroke="#ff0000" stroke-width="1.15"/>
<circle cx="127.6" cy="45.1" r="1.95" fill="none" stroke="#ff0000" stroke-width="1.15"/>
<path d="M110.20 48.05L112.25 51.35L108.15 51.35Z" fill="none" stroke="#0000ff" stroke-width="1.15"/>
<path d="M118.00 47.35L120.05 50.65L115.95 50.65Z" fill="none" stroke="#0000ff" stroke-width="1.15"/>
<path d="M113.00 52.35L115.05 55.65L110.95 55.65Z" fill="none" stroke="#0000ff" stroke-width="1.15"/>
<circle cx="123.0" cy="53.5" r="1.95" fill="none" stroke="#ff0000" stroke-width="1.15"/>
<rect x="119.30" y="53.50" width="3.0" height="3.0" fill="none" stroke="#ffa812" stroke-width="1.32"/>
<rect x="128.30" y="52.90" width="3.0" height="3.0" fill="none" stroke="#ffa812" stroke-width="1.32"/>
<path d="M111.80 56.35L113.85 59.65L109.75 59.65Z" fill="none" stroke="#0000ff" stroke-width="1.15"/>
<path d="M114.00 57.95L116.05 61.25L111.95 61.25Z" fill="none" stroke="#0000ff" stroke-width="1.15"/>
<path d="M123.30 56.95L125.35 60.25L121.25 60.25Z" fill="none" stroke="#0000ff" stroke-width="1.15"/>
<rect x="126.40" y="58.20" width="3.0" height="3.0" fill="none" stroke="#ffa812" stroke-width="1.32"/>
<path d="M127.00 60.75L129.05 64.05L124.95 64.05Z" fill="none" stroke="#0000ff" stroke-width="1.15"/>
<path d="M112.70 61.05L114.75 64.35L110.65 64.35Z" fill="none" stroke="#0000ff" stroke-width="1.15"/>
<path d="M133.80 60.15L135.85 63.45L131.75 63.45Z" fill="none" stroke="#0000ff" stroke-width="1.15"/>
<path d="M89.00 84.55L91.05 87.85L86.95 87.85Z" fill="none" stroke="#0000ff" stroke-width="1.15"/>
<path d="M84.60 88.95L86.65 92.25L82.55 92.25Z" fill="none" stroke="#0000ff" stroke-width="1.15"/>
<rect x="95.20" y="88.50" width="3.0" height="3.0" fill="none" stroke="#ffa812" stroke-width="1.32"/>
<rect x="95.20" y="91.30" width="3.0" height="3.0" fill="none" stroke="#ffa812" stroke-width="1.32"/>
<path d="M94.50 87.05L96.55 90.35L92.45 90.35Z" fill="none" stroke="#0000ff" stroke-width="1.15"/>
<rect x="94.60" y="93.80" width="3.0" height="3.0" fill="none" stroke="#ffa812" stroke-width="1.32"/>
<circle cx="86.5" cy="93.4" r="1.95" fill="none" stroke="#ff0000" stroke-width="1.15"/>
<rect x="87.50" y="91.90" width="3.0" height="3.0" fill="none" stroke="#ffa812" stroke-width="1.32"/>
<rect x="91.20" y="93.80" width="3.0" height="3.0" fill="none" stroke="#ffa812" stroke-width="1.32"/>
<circle cx="85.2" cy="97.8" r="1.95" fill="none" stroke="#ff0000" stroke-width="1.15"/>
<path d="M89.30 97.85L91.35 101.15L87.25 101.15Z" fill="none" stroke="#0000ff" stroke-width="1.15"/>
<rect x="85.00" y="100.00" width="3.0" height="3.0" fill="none" stroke="#ffa812" stroke-width="1.32"/>
<rect x="90.60" y="100.60" width="3.0" height="3.0" fill="none" stroke="#ffa812" stroke-width="1.32"/>
<rect x="87.50" y="103.10" width="3.0" height="3.0" fill="none" stroke="#ffa812" stroke-width="1.32"/>
<path d="M100.10 94.15L102.15 97.45L98.05 97.45Z" fill="none" stroke="#0000ff" stroke-width="1.15"/>
<path d="M98.30 98.25L100.35 101.55L96.25 101.55Z" fill="none" stroke="#0000ff" stroke-width="1.15"/>
<circle cx="102.6" cy="99.0" r="1.95" fill="none" stroke="#ff0000" stroke-width="1.15"/>
<rect x="99.90" y="90.10" width="3.0" height="3.0" fill="none" stroke="#ffa812" stroke-width="1.32"/>
<rect x="103.60" y="90.10" width="3.0" height="3.0" fill="none" stroke="#ffa812" stroke-width="1.32"/>
<rect x="105.50" y="88.20" width="3.0" height="3.0" fill="none" stroke="#ffa812" stroke-width="1.32"/>
<rect x="105.50" y="94.40" width="3.0" height="3.0" fill="none" stroke="#ffa812" stroke-width="1.32"/>
<rect x="104.20" y="98.10" width="3.0" height="3.0" fill="none" stroke="#ffa812" stroke-width="1.32"/>
<path d="M103.20 101.95L105.25 105.25L101.15 105.25Z" fill="none" stroke="#0000ff" stroke-width="1.15"/>
<path d="M107.60 102.85L109.65 106.15L105.55 106.15Z" fill="none" stroke="#0000ff" stroke-width="1.15"/>
<path d="M93.90 104.75L95.95 108.05L91.85 108.05Z" fill="none" stroke="#0000ff" stroke-width="1.15"/>
<rect x="94.90" y="104.40" width="3.0" height="3.0" fill="none" stroke="#ffa812" stroke-width="1.32"/>
<rect x="100.50" y="86.40" width="3.0" height="3.0" fill="none" stroke="#ffa812" stroke-width="1.32"/>
<path d="M111.50 85.45L113.55 88.75L109.45 88.75Z" fill="none" stroke="#0000ff" stroke-width="1.15"/>
<rect x="118.00" y="85.70" width="3.0" height="3.0" fill="none" stroke="#ffa812" stroke-width="1.32"/>
<path d="M123.90 84.85L125.95 88.15L121.85 88.15Z" fill="none" stroke="#0000ff" stroke-width="1.15"/>
<path d="M129.50 85.15L131.55 88.45L127.45 88.45Z" fill="none" stroke="#0000ff" stroke-width="1.15"/>
<circle cx="118.9" cy="90.0" r="1.95" fill="none" stroke="#ff0000" stroke-width="1.15"/>
<circle cx="123.9" cy="92.2" r="1.95" fill="none" stroke="#ff0000" stroke-width="1.15"/>
<rect x="115.30" y="91.90" width="3.0" height="3.0" fill="none" stroke="#ffa812" stroke-width="1.32"/>
<rect x="108.70" y="91.90" width="3.0" height="3.0" fill="none" stroke="#ffa812" stroke-width="1.32"/>
<circle cx="110.9" cy="91.0" r="1.95" fill="none" stroke="#ff0000" stroke-width="1.15"/>
<path d="M132.60 90.15L134.65 93.45L130.55 93.45Z" fill="none" stroke="#0000ff" stroke-width="1.15"/>
<circle cx="132.6" cy="92.5" r="1.95" fill="none" stroke="#ff0000" stroke-width="1.15"/>
<rect x="110.60" y="96.90" width="3.0" height="3.0" fill="none" stroke="#ffa812" stroke-width="1.32"/>
<rect x="115.60" y="96.60" width="3.0" height="3.0" fill="none" stroke="#ffa812" stroke-width="1.32"/>
<path d="M119.50 96.05L121.55 99.35L117.45 99.35Z" fill="none" stroke="#0000ff" stroke-width="1.15"/>
<circle cx="119.5" cy="100.3" r="1.95" fill="none" stroke="#ff0000" stroke-width="1.15"/>
<path d="M124.80 96.05L126.85 99.35L122.75 99.35Z" fill="none" stroke="#0000ff" stroke-width="1.15"/>
<path d="M127.00 98.55L129.05 101.85L124.95 101.85Z" fill="none" stroke="#0000ff" stroke-width="1.15"/>
<path d="M123.30 98.55L125.35 101.85L121.25 101.85Z" fill="none" stroke="#0000ff" stroke-width="1.15"/>
<circle cx="113.7" cy="104.0" r="1.95" fill="none" stroke="#ff0000" stroke-width="1.15"/>
<path d="M112.70 100.95L114.75 104.25L110.65 104.25Z" fill="none" stroke="#0000ff" stroke-width="1.15"/>
<rect x="116.80" y="103.70" width="3.0" height="3.0" fill="none" stroke="#ffa812" stroke-width="1.32"/>
<path d="M123.90 103.45L125.95 106.75L121.85 106.75Z" fill="none" stroke="#0000ff" stroke-width="1.15"/>
<rect x="108.40" y="100.60" width="3.0" height="3.0" fill="none" stroke="#ffa812" stroke-width="1.32"/>
<circle cx="272.5" cy="18.7" r="1.95" fill="none" stroke="#ff0000" stroke-width="1.15"/>
<path d="M277.70 16.95L279.75 20.25L275.65 20.25Z" fill="none" stroke="#0000ff" stroke-width="1.15"/>
<path d="M280.00 24.45L282.05 27.75L277.95 27.75Z" fill="none" stroke="#0000ff" stroke-width="1.15"/>
<circle cx="287.2" cy="33.6" r="1.95" fill="none" stroke="#ff0000" stroke-width="1.15"/>
<circle cx="276.9" cy="35.7" r="1.95" fill="none" stroke="#ff0000" stroke-width="1.15"/>
<path d="M276.90 37.45L278.95 40.75L274.85 40.75Z" fill="none" stroke="#0000ff" stroke-width="1.15"/>
<circle cx="276.5" cy="49.1" r="1.95" fill="none" stroke="#ff0000" stroke-width="1.15"/>
<rect x="278.20" y="46.20" width="3.0" height="3.0" fill="none" stroke="#ffa812" stroke-width="1.32"/>
<rect x="281.00" y="48.50" width="3.0" height="3.0" fill="none" stroke="#ffa812" stroke-width="1.32"/>
<rect x="283.70" y="46.60" width="3.0" height="3.0" fill="none" stroke="#ffa812" stroke-width="1.32"/>
<circle cx="286.0" cy="53.1" r="1.95" fill="none" stroke="#ff0000" stroke-width="1.15"/>
<rect x="280.30" y="55.90" width="3.0" height="3.0" fill="none" stroke="#ffa812" stroke-width="1.32"/>
<path d="M287.40 55.65L289.45 58.95L285.35 58.95Z" fill="none" stroke="#0000ff" stroke-width="1.15"/>
<circle cx="293.5" cy="51.0" r="1.95" fill="none" stroke="#ff0000" stroke-width="1.15"/>
<path d="M306.00 22.15L308.05 25.45L303.95 25.45Z" fill="none" stroke="#0000ff" stroke-width="1.15"/>
<path d="M299.60 32.15L301.65 35.45L297.55 35.45Z" fill="none" stroke="#0000ff" stroke-width="1.15"/>
<rect x="293.70" y="33.80" width="3.0" height="3.0" fill="none" stroke="#ffa812" stroke-width="1.32"/>
<path d="M322.90 33.35L324.95 36.65L320.85 36.65Z" fill="none" stroke="#0000ff" stroke-width="1.15"/>
<path d="M305.20 39.25L307.25 42.55L303.15 42.55Z" fill="none" stroke="#0000ff" stroke-width="1.15"/>
<rect x="306.40" y="41.30" width="3.0" height="3.0" fill="none" stroke="#ffa812" stroke-width="1.32"/>
<rect x="296.00" y="41.40" width="3.0" height="3.0" fill="none" stroke="#ffa812" stroke-width="1.32"/>
<circle cx="320.1" cy="43.4" r="1.95" fill="none" stroke="#ff0000" stroke-width="1.15"/>
<path d="M306.40 45.15L308.45 48.45L304.35 48.45Z" fill="none" stroke="#0000ff" stroke-width="1.15"/>
<rect x="320.40" y="46.00" width="3.0" height="3.0" fill="none" stroke="#ffa812" stroke-width="1.32"/>
<rect x="326.00" y="49.70" width="3.0" height="3.0" fill="none" stroke="#ffa812" stroke-width="1.32"/>
<circle cx="295.9" cy="51.0" r="1.95" fill="none" stroke="#ff0000" stroke-width="1.15"/>
<circle cx="299.6" cy="51.8" r="1.95" fill="none" stroke="#ff0000" stroke-width="1.15"/>
<circle cx="302.7" cy="50.6" r="1.95" fill="none" stroke="#ff0000" stroke-width="1.15"/>
<rect x="304.30" y="52.80" width="3.0" height="3.0" fill="none" stroke="#ffa812" stroke-width="1.32"/>
<rect x="306.80" y="49.70" width="3.0" height="3.0" fill="none" stroke="#ffa812" stroke-width="1.32"/>
<circle cx="309.5" cy="53.7" r="1.95" fill="none" stroke="#ff0000" stroke-width="1.15"/>
<path d="M318.20 48.85L320.25 52.15L316.15 52.15Z" fill="none" stroke="#0000ff" stroke-width="1.15"/>
<path d="M316.30 52.55L318.35 55.85L314.25 55.85Z" fill="none" stroke="#0000ff" stroke-width="1.15"/>
<rect x="312.40" y="55.30" width="3.0" height="3.0" fill="none" stroke="#ffa812" stroke-width="1.32"/>
<rect x="316.70" y="55.30" width="3.0" height="3.0" fill="none" stroke="#ffa812" stroke-width="1.32"/>
<path d="M297.70 55.05L299.75 58.35L295.65 58.35Z" fill="none" stroke="#0000ff" stroke-width="1.15"/>
<rect x="300.60" y="55.30" width="3.0" height="3.0" fill="none" stroke="#ffa812" stroke-width="1.32"/>
<path d="M307.00 55.65L309.05 58.95L304.95 58.95Z" fill="none" stroke="#0000ff" stroke-width="1.15"/>
<rect x="280.30" y="57.10" width="3.0" height="3.0" fill="none" stroke="#ffa812" stroke-width="1.32"/>
<path d="M287.40 57.45L289.45 60.75L285.35 60.75Z" fill="none" stroke="#0000ff" stroke-width="1.15"/>
<circle cx="285.0" cy="61.7" r="1.95" fill="none" stroke="#ff0000" stroke-width="1.15"/>
<circle cx="289.3" cy="62.3" r="1.95" fill="none" stroke="#ff0000" stroke-width="1.15"/>
<rect x="285.30" y="61.50" width="3.0" height="3.0" fill="none" stroke="#ffa812" stroke-width="1.32"/>
<path d="M276.90 66.75L278.95 70.05L274.85 70.05Z" fill="none" stroke="#0000ff" stroke-width="1.15"/>
<circle cx="279.4" cy="65.4" r="1.95" fill="none" stroke="#ff0000" stroke-width="1.15"/>
<path d="M280.00 64.95L282.05 68.25L277.95 68.25Z" fill="none" stroke="#0000ff" stroke-width="1.15"/>
<rect x="282.80" y="65.80" width="3.0" height="3.0" fill="none" stroke="#ffa812" stroke-width="1.32"/>
<path d="M288.00 64.95L290.05 68.25L285.95 68.25Z" fill="none" stroke="#0000ff" stroke-width="1.15"/>
<rect x="285.30" y="68.30" width="3.0" height="3.0" fill="none" stroke="#ffa812" stroke-width="1.32"/>
<rect x="280.30" y="69.90" width="3.0" height="3.0" fill="none" stroke="#ffa812" stroke-width="1.32"/>
<path d="M289.30 66.75L291.35 70.05L287.25 70.05Z" fill="none" stroke="#0000ff" stroke-width="1.15"/>
<circle cx="289.3" cy="71.6" r="1.95" fill="none" stroke="#ff0000" stroke-width="1.15"/>
<rect x="274.10" y="73.20" width="3.0" height="3.0" fill="none" stroke="#ffa812" stroke-width="1.32"/>
<circle cx="284.0" cy="78.5" r="1.95" fill="none" stroke="#ff0000" stroke-width="1.15"/>
<circle cx="272.8" cy="81.8" r="1.95" fill="none" stroke="#ff0000" stroke-width="1.15"/>
<path d="M270.40 82.95L272.45 86.25L268.35 86.25Z" fill="none" stroke="#0000ff" stroke-width="1.15"/>
<rect x="262.40" y="82.30" width="3.0" height="3.0" fill="none" stroke="#ffa812" stroke-width="1.32"/>
<path d="M292.60 78.55L294.65 81.85L290.55 81.85Z" fill="none" stroke="#0000ff" stroke-width="1.15"/>
<circle cx="276.5" cy="91.3" r="1.95" fill="none" stroke="#ff0000" stroke-width="1.15"/>
<circle cx="280.6" cy="93.4" r="1.95" fill="none" stroke="#ff0000" stroke-width="1.15"/>
<rect x="282.20" y="93.70" width="3.0" height="3.0" fill="none" stroke="#ffa812" stroke-width="1.32"/>
<rect x="288.40" y="91.60" width="3.0" height="3.0" fill="none" stroke="#ffa812" stroke-width="1.32"/>
<rect x="275.40" y="96.20" width="3.0" height="3.0" fill="none" stroke="#ffa812" stroke-width="1.32"/>
<path d="M286.20 97.25L288.25 100.55L284.15 100.55Z" fill="none" stroke="#0000ff" stroke-width="1.15"/>
<circle cx="294.0" cy="88.0" r="1.95" fill="none" stroke="#ff0000" stroke-width="1.15"/>
<path d="M348.30 68.65L350.35 71.95L346.25 71.95Z" fill="none" stroke="#0000ff" stroke-width="1.15"/>
<rect x="347.70" y="68.70" width="3.0" height="3.0" fill="none" stroke="#ffa812" stroke-width="1.32"/>
<path d="M373.40 74.85L375.45 78.15L371.35 78.15Z" fill="none" stroke="#0000ff" stroke-width="1.15"/>
<path d="M344.60 74.85L346.65 78.15L342.55 78.15Z" fill="none" stroke="#0000ff" stroke-width="1.15"/>
<circle cx="346.7" cy="81.6" r="1.95" fill="none" stroke="#ff0000" stroke-width="1.15"/>
<path d="M345.20 77.35L347.25 80.65L343.15 80.65Z" fill="none" stroke="#0000ff" stroke-width="1.15"/>
<circle cx="344.6" cy="86.8" r="1.95" fill="none" stroke="#ff0000" stroke-width="1.15"/>
<path d="M353.90 87.05L355.95 90.35L351.85 90.35Z" fill="none" stroke="#0000ff" stroke-width="1.15"/>
<rect x="346.20" y="90.00" width="3.0" height="3.0" fill="none" stroke="#ffa812" stroke-width="1.32"/>
<circle cx="351.4" cy="92.7" r="1.95" fill="none" stroke="#ff0000" stroke-width="1.15"/>
<rect x="350.60" y="93.10" width="3.0" height="3.0" fill="none" stroke="#ffa812" stroke-width="1.32"/>
<circle cx="355.2" cy="92.7" r="1.95" fill="none" stroke="#ff0000" stroke-width="1.15"/>
<rect x="355.50" y="94.70" width="3.0" height="3.0" fill="none" stroke="#ffa812" stroke-width="1.32"/>
<rect x="376.60" y="88.50" width="3.0" height="3.0" fill="none" stroke="#ffa812" stroke-width="1.32"/>
<circle cx="381.6" cy="88.1" r="1.95" fill="none" stroke="#ff0000" stroke-width="1.15"/>
<rect x="377.20" y="91.90" width="3.0" height="3.0" fill="none" stroke="#ffa812" stroke-width="1.32"/>
<path d="M365.50 96.55L367.55 99.85L363.45 99.85Z" fill="none" stroke="#0000ff" stroke-width="1.15"/>
<circle cx="368.2" cy="100.8" r="1.95" fill="none" stroke="#ff0000" stroke-width="1.15"/>
<path d="M345.90 94.75L347.95 98.05L343.85 98.05Z" fill="none" stroke="#0000ff" stroke-width="1.15"/>
<rect x="349.30" y="98.70" width="3.0" height="3.0" fill="none" stroke="#ffa812" stroke-width="1.32"/>
<rect x="379.10" y="100.20" width="3.0" height="3.0" fill="none" stroke="#ffa812" stroke-width="1.32"/>
<path d="M386.00 102.35L388.05 105.65L383.95 105.65Z" fill="none" stroke="#0000ff" stroke-width="1.15"/>
<circle cx="346.2" cy="101.5" r="1.95" fill="none" stroke="#ff0000" stroke-width="1.15"/>
<path d="M354.20 100.05L356.25 103.35L352.15 103.35Z" fill="none" stroke="#0000ff" stroke-width="1.15"/>
<path d="M349.10 104.85L351.15 108.15L347.05 108.15Z" fill="none" stroke="#0000ff" stroke-width="1.15"/>
<circle cx="346.9" cy="107.3" r="1.95" fill="none" stroke="#ff0000" stroke-width="1.15"/>
<rect x="352.00" y="104.10" width="3.0" height="3.0" fill="none" stroke="#ffa812" stroke-width="1.32"/>
<rect x="354.90" y="104.40" width="3.0" height="3.0" fill="none" stroke="#ffa812" stroke-width="1.32"/>
<rect x="358.60" y="106.10" width="3.0" height="3.0" fill="none" stroke="#ffa812" stroke-width="1.32"/>
<rect x="363.30" y="105.10" width="3.0" height="3.0" fill="none" stroke="#ffa812" stroke-width="1.32"/>
<circle cx="350.6" cy="110.5" r="1.95" fill="none" stroke="#ff0000" stroke-width="1.15"/>
<rect x="344.70" y="109.50" width="3.0" height="3.0" fill="none" stroke="#ffa812" stroke-width="1.32"/>
<circle cx="345.5" cy="113.9" r="1.95" fill="none" stroke="#ff0000" stroke-width="1.15"/>
<path d="M348.40 108.45L350.45 111.75L346.35 111.75Z" fill="none" stroke="#0000ff" stroke-width="1.15"/>
<circle cx="357.9" cy="110.7" r="1.95" fill="none" stroke="#ff0000" stroke-width="1.15"/>
<circle cx="378.4" cy="110.5" r="1.95" fill="none" stroke="#ff0000" stroke-width="1.15"/>
<rect x="394.20" y="111.70" width="3.0" height="3.0" fill="none" stroke="#ffa812" stroke-width="1.32"/>
<circle cx="357.9" cy="128.6" r="1.95" fill="none" stroke="#ff0000" stroke-width="1.15"/>
<circle cx="347.2" cy="134.1" r="1.95" fill="none" stroke="#ff0000" stroke-width="1.15"/>
<path d="M297.70 56.55L299.75 59.85L295.65 59.85Z" fill="none" stroke="#0000ff" stroke-width="1.15"/>
<rect x="300.60" y="56.80" width="3.0" height="3.0" fill="none" stroke="#ffa812" stroke-width="1.32"/>
<rect x="313.00" y="57.10" width="3.0" height="3.0" fill="none" stroke="#ffa812" stroke-width="1.32"/>
<path d="M306.10 58.15L308.15 61.45L304.05 61.45Z" fill="none" stroke="#0000ff" stroke-width="1.15"/>
<path d="M308.30 57.45L310.35 60.75L306.25 60.75Z" fill="none" stroke="#0000ff" stroke-width="1.15"/>
<rect x="295.30" y="62.40" width="3.0" height="3.0" fill="none" stroke="#ffa812" stroke-width="1.32"/>
<rect x="298.10" y="62.70" width="3.0" height="3.0" fill="none" stroke="#ffa812" stroke-width="1.32"/>
<path d="M304.20 61.25L306.25 64.55L302.15 64.55Z" fill="none" stroke="#0000ff" stroke-width="1.15"/>
<path d="M307.30 61.85L309.35 65.15L305.25 65.15Z" fill="none" stroke="#0000ff" stroke-width="1.15"/>
<path d="M308.90 63.65L310.95 66.95L306.85 66.95Z" fill="none" stroke="#0000ff" stroke-width="1.15"/>
<circle cx="296.8" cy="67.0" r="1.95" fill="none" stroke="#ff0000" stroke-width="1.15"/>
<rect x="300.30" y="66.10" width="3.0" height="3.0" fill="none" stroke="#ffa812" stroke-width="1.32"/>
<path d="M305.50 65.55L307.55 68.85L303.45 68.85Z" fill="none" stroke="#0000ff" stroke-width="1.15"/>
<path d="M308.00 65.55L310.05 68.85L305.95 68.85Z" fill="none" stroke="#0000ff" stroke-width="1.15"/>
<path d="M312.00 64.95L314.05 68.25L309.95 68.25Z" fill="none" stroke="#0000ff" stroke-width="1.15"/>
<path d="M313.90 63.05L315.95 66.35L311.85 66.35Z" fill="none" stroke="#0000ff" stroke-width="1.15"/>
<rect x="315.50" y="66.70" width="3.0" height="3.0" fill="none" stroke="#ffa812" stroke-width="1.32"/>
<circle cx="296.2" cy="72.9" r="1.95" fill="none" stroke="#ff0000" stroke-width="1.15"/>
<circle cx="308.3" cy="72.3" r="1.95" fill="none" stroke="#ff0000" stroke-width="1.15"/>
<circle cx="312.0" cy="71.0" r="1.95" fill="none" stroke="#ff0000" stroke-width="1.15"/>
<rect x="308.60" y="70.10" width="3.0" height="3.0" fill="none" stroke="#ffa812" stroke-width="1.32"/>
<circle cx="314.5" cy="72.6" r="1.95" fill="none" stroke="#ff0000" stroke-width="1.15"/>
<rect x="305.50" y="73.20" width="3.0" height="3.0" fill="none" stroke="#ffa812" stroke-width="1.32"/>
<rect x="310.50" y="73.90" width="3.0" height="3.0" fill="none" stroke="#ffa812" stroke-width="1.32"/>
<circle cx="315.7" cy="74.7" r="1.95" fill="none" stroke="#ff0000" stroke-width="1.15"/>
<circle cx="295.2" cy="78.2" r="1.95" fill="none" stroke="#ff0000" stroke-width="1.15"/>
<path d="M304.50 76.75L306.55 80.05L302.45 80.05Z" fill="none" stroke="#0000ff" stroke-width="1.15"/>
<circle cx="307.6" cy="78.5" r="1.95" fill="none" stroke="#ff0000" stroke-width="1.15"/>
<rect x="309.60" y="76.40" width="3.0" height="3.0" fill="none" stroke="#ffa812" stroke-width="1.32"/>
<path d="M317.00 76.45L319.05 79.75L314.95 79.75Z" fill="none" stroke="#0000ff" stroke-width="1.15"/>
<rect x="318.10" y="56.80" width="3.0" height="3.0" fill="none" stroke="#ffa812" stroke-width="1.32"/>
<rect x="326.80" y="59.60" width="3.0" height="3.0" fill="none" stroke="#ffa812" stroke-width="1.32"/>
<rect x="329.60" y="61.50" width="3.0" height="3.0" fill="none" stroke="#ffa812" stroke-width="1.32"/>
<rect x="327.70" y="64.90" width="3.0" height="3.0" fill="none" stroke="#ffa812" stroke-width="1.32"/>
<circle cx="324.9" cy="65.8" r="1.95" fill="none" stroke="#ff0000" stroke-width="1.15"/>
<circle cx="319.9" cy="66.7" r="1.95" fill="none" stroke="#ff0000" stroke-width="1.15"/>
<circle cx="337.9" cy="65.1" r="1.95" fill="none" stroke="#ff0000" stroke-width="1.15"/>
<path d="M334.50 68.65L336.55 71.95L332.45 71.95Z" fill="none" stroke="#0000ff" stroke-width="1.15"/>
<circle cx="330.5" cy="72.9" r="1.95" fill="none" stroke="#ff0000" stroke-width="1.15"/>
<circle cx="328.0" cy="76.6" r="1.95" fill="none" stroke="#ff0000" stroke-width="1.15"/>
<rect x="333.30" y="73.90" width="3.0" height="3.0" fill="none" stroke="#ffa812" stroke-width="1.32"/>
<path d="M332.30 74.85L334.35 78.15L330.25 78.15Z" fill="none" stroke="#0000ff" stroke-width="1.15"/>
<rect x="319.10" y="72.00" width="3.0" height="3.0" fill="none" stroke="#ffa812" stroke-width="1.32"/>
<rect x="321.80" y="73.90" width="3.0" height="3.0" fill="none" stroke="#ffa812" stroke-width="1.32"/>
<path d="M321.20 76.15L323.25 79.45L319.15 79.45Z" fill="none" stroke="#0000ff" stroke-width="1.15"/>
<path d="M342.90 74.25L344.95 77.55L340.85 77.55Z" fill="none" stroke="#0000ff" stroke-width="1.15"/>
<path d="M333.30 76.75L335.35 80.05L331.25 80.05Z" fill="none" stroke="#0000ff" stroke-width="1.15"/>
<path d="M296.50 78.85L298.55 82.15L294.45 82.15Z" fill="none" stroke="#0000ff" stroke-width="1.15"/>
<rect x="298.10" y="80.10" width="3.0" height="3.0" fill="none" stroke="#ffa812" stroke-width="1.32"/>
<circle cx="295.2" cy="85.6" r="1.95" fill="none" stroke="#ff0000" stroke-width="1.15"/>
<rect x="295.00" y="86.60" width="3.0" height="3.0" fill="none" stroke="#ffa812" stroke-width="1.32"/>
<circle cx="294.9" cy="89.9" r="1.95" fill="none" stroke="#ff0000" stroke-width="1.15"/>
<path d="M302.70 81.95L304.75 85.25L300.65 85.25Z" fill="none" stroke="#0000ff" stroke-width="1.15"/>
<rect x="301.80" y="85.30" width="3.0" height="3.0" fill="none" stroke="#ffa812" stroke-width="1.32"/>
<rect x="304.30" y="85.90" width="3.0" height="3.0" fill="none" stroke="#ffa812" stroke-width="1.32"/>
<path d="M308.30 81.35L310.35 84.65L306.25 84.65Z" fill="none" stroke="#0000ff" stroke-width="1.15"/>
<path d="M311.40 81.95L313.45 85.25L309.35 85.25Z" fill="none" stroke="#0000ff" stroke-width="1.15"/>
<circle cx="312.6" cy="81.9" r="1.95" fill="none" stroke="#ff0000" stroke-width="1.15"/>
<path d="M315.70 80.15L317.75 83.45L313.65 83.45Z" fill="none" stroke="#0000ff" stroke-width="1.15"/>
<path d="M307.00 88.15L309.05 91.45L304.95 91.45Z" fill="none" stroke="#0000ff" stroke-width="1.15"/>
<rect x="309.90" y="89.00" width="3.0" height="3.0" fill="none" stroke="#ffa812" stroke-width="1.32"/>
<circle cx="313.2" cy="88.1" r="1.95" fill="none" stroke="#ff0000" stroke-width="1.15"/>
<rect x="314.80" y="85.40" width="3.0" height="3.0" fill="none" stroke="#ffa812" stroke-width="1.32"/>
<path d="M300.20 90.65L302.25 93.95L298.15 93.95Z" fill="none" stroke="#0000ff" stroke-width="1.15"/>
<rect x="301.80" y="92.10" width="3.0" height="3.0" fill="none" stroke="#ffa812" stroke-width="1.32"/>
<rect x="304.90" y="92.50" width="3.0" height="3.0" fill="none" stroke="#ffa812" stroke-width="1.32"/>
<rect x="307.40" y="92.80" width="3.0" height="3.0" fill="none" stroke="#ffa812" stroke-width="1.32"/>
<circle cx="316.3" cy="92.4" r="1.95" fill="none" stroke="#ff0000" stroke-width="1.15"/>
<circle cx="312.0" cy="95.5" r="1.95" fill="none" stroke="#ff0000" stroke-width="1.15"/>
<path d="M315.70 93.15L317.75 96.45L313.65 96.45Z" fill="none" stroke="#0000ff" stroke-width="1.15"/>
<path d="M295.20 96.85L297.25 100.15L293.15 100.15Z" fill="none" stroke="#0000ff" stroke-width="1.15"/>
<rect x="298.10" y="98.40" width="3.0" height="3.0" fill="none" stroke="#ffa812" stroke-width="1.32"/>
<circle cx="303.3" cy="99.9" r="1.95" fill="none" stroke="#ff0000" stroke-width="1.15"/>
<path d="M307.00 96.25L309.05 99.55L304.95 99.55Z" fill="none" stroke="#0000ff" stroke-width="1.15"/>
<rect x="309.20" y="97.70" width="3.0" height="3.0" fill="none" stroke="#ffa812" stroke-width="1.32"/>
<path d="M313.90 98.15L315.95 101.45L311.85 101.45Z" fill="none" stroke="#0000ff" stroke-width="1.15"/>
<rect x="316.10" y="97.10" width="3.0" height="3.0" fill="none" stroke="#ffa812" stroke-width="1.32"/>
<path d="M322.10 78.55L324.15 81.85L320.05 81.85Z" fill="none" stroke="#0000ff" stroke-width="1.15"/>
<path d="M332.00 78.55L334.05 81.85L329.95 81.85Z" fill="none" stroke="#0000ff" stroke-width="1.15"/>
<rect x="320.00" y="82.20" width="3.0" height="3.0" fill="none" stroke="#ffa812" stroke-width="1.32"/>
<circle cx="325.8" cy="84.3" r="1.95" fill="none" stroke="#ff0000" stroke-width="1.15"/>
<path d="M334.50 85.05L336.55 88.35L332.45 88.35Z" fill="none" stroke="#0000ff" stroke-width="1.15"/>
<rect x="326.80" y="87.20" width="3.0" height="3.0" fill="none" stroke="#ffa812" stroke-width="1.32"/>
<rect x="328.70" y="88.40" width="3.0" height="3.0" fill="none" stroke="#ffa812" stroke-width="1.32"/>
<circle cx="319.9" cy="89.9" r="1.95" fill="none" stroke="#ff0000" stroke-width="1.15"/>
<path d="M322.70 86.35L324.75 89.65L320.65 89.65Z" fill="none" stroke="#0000ff" stroke-width="1.15"/>
<rect x="338.30" y="85.90" width="3.0" height="3.0" fill="none" stroke="#ffa812" stroke-width="1.32"/>
<circle cx="338.9" cy="89.9" r="1.95" fill="none" stroke="#ff0000" stroke-width="1.15"/>
<circle cx="343.2" cy="86.8" r="1.95" fill="none" stroke="#ff0000" stroke-width="1.15"/>
<path d="M332.60 91.85L334.65 95.15L330.55 95.15Z" fill="none" stroke="#0000ff" stroke-width="1.15"/>
<path d="M335.70 93.15L337.75 96.45L333.65 96.45Z" fill="none" stroke="#0000ff" stroke-width="1.15"/>
<rect x="320.60" y="93.40" width="3.0" height="3.0" fill="none" stroke="#ffa812" stroke-width="1.32"/>
<rect x="323.10" y="93.10" width="3.0" height="3.0" fill="none" stroke="#ffa812" stroke-width="1.32"/>
<path d="M329.50 92.55L331.55 95.85L327.45 95.85Z" fill="none" stroke="#0000ff" stroke-width="1.15"/>
<path d="M340.10 91.25L342.15 94.55L338.05 94.55Z" fill="none" stroke="#0000ff" stroke-width="1.15"/>
<path d="M342.60 94.95L344.65 98.25L340.55 98.25Z" fill="none" stroke="#0000ff" stroke-width="1.15"/>
<rect x="336.10" y="95.90" width="3.0" height="3.0" fill="none" stroke="#ffa812" stroke-width="1.32"/>
<circle cx="322.7" cy="99.9" r="1.95" fill="none" stroke="#ff0000" stroke-width="1.15"/>
<circle cx="330.2" cy="98.6" r="1.95" fill="none" stroke="#ff0000" stroke-width="1.15"/>
<rect x="329.30" y="99.00" width="3.0" height="3.0" fill="none" stroke="#ffa812" stroke-width="1.32"/>
<path d="M336.40 98.15L338.45 101.45L334.35 101.45Z" fill="none" stroke="#0000ff" stroke-width="1.15"/>
<rect x="284.10" y="101.10" width="3.0" height="3.0" fill="none" stroke="#ffa812" stroke-width="1.32"/>
<path d="M290.50 102.75L292.55 106.05L288.45 106.05Z" fill="none" stroke="#0000ff" stroke-width="1.15"/>
<path d="M289.30 101.45L291.35 104.75L287.25 104.75Z" fill="none" stroke="#0000ff" stroke-width="1.15"/>
<rect x="294.40" y="102.40" width="3.0" height="3.0" fill="none" stroke="#ffa812" stroke-width="1.32"/>
<rect x="297.50" y="106.70" width="3.0" height="3.0" fill="none" stroke="#ffa812" stroke-width="1.32"/>
<circle cx="301.4" cy="108.2" r="1.95" fill="none" stroke="#ff0000" stroke-width="1.15"/>
<path d="M304.50 110.15L306.55 113.45L302.45 113.45Z" fill="none" stroke="#0000ff" stroke-width="1.15"/>
<path d="M306.40 107.65L308.45 110.95L304.35 110.95Z" fill="none" stroke="#0000ff" stroke-width="1.15"/>
<rect x="306.10" y="109.20" width="3.0" height="3.0" fill="none" stroke="#ffa812" stroke-width="1.32"/>
<rect x="307.40" y="103.00" width="3.0" height="3.0" fill="none" stroke="#ffa812" stroke-width="1.32"/>
<rect x="313.00" y="104.20" width="3.0" height="3.0" fill="none" stroke="#ffa812" stroke-width="1.32"/>
<circle cx="318.2" cy="108.8" r="1.95" fill="none" stroke="#ff0000" stroke-width="1.15"/>
<path d="M317.00 112.05L319.05 115.35L314.95 115.35Z" fill="none" stroke="#0000ff" stroke-width="1.15"/>
<path d="M318.80 112.05L320.85 115.35L316.75 115.35Z" fill="none" stroke="#0000ff" stroke-width="1.15"/>
<circle cx="320.7" cy="103.2" r="1.95" fill="none" stroke="#ff0000" stroke-width="1.15"/>
<circle cx="323.8" cy="103.2" r="1.95" fill="none" stroke="#ff0000" stroke-width="1.15"/>
<path d="M321.90 105.85L323.95 109.15L319.85 109.15Z" fill="none" stroke="#0000ff" stroke-width="1.15"/>
<rect x="323.50" y="107.30" width="3.0" height="3.0" fill="none" stroke="#ffa812" stroke-width="1.32"/>
<path d="M328.70 101.45L330.75 104.75L326.65 104.75Z" fill="none" stroke="#0000ff" stroke-width="1.15"/>
<path d="M329.40 105.85L331.45 109.15L327.35 109.15Z" fill="none" stroke="#0000ff" stroke-width="1.15"/>
<rect x="329.70" y="104.80" width="3.0" height="3.0" fill="none" stroke="#ffa812" stroke-width="1.32"/>
<rect x="331.00" y="107.30" width="3.0" height="3.0" fill="none" stroke="#ffa812" stroke-width="1.32"/>
<circle cx="331.2" cy="112.5" r="1.95" fill="none" stroke="#ff0000" stroke-width="1.15"/>
<path d="M336.20 106.45L338.25 109.75L334.15 109.75Z" fill="none" stroke="#0000ff" stroke-width="1.15"/>
<rect x="337.80" y="107.90" width="3.0" height="3.0" fill="none" stroke="#ffa812" stroke-width="1.32"/>
<circle cx="337.4" cy="103.2" r="1.95" fill="none" stroke="#ff0000" stroke-width="1.15"/>
<path d="M335.60 112.65L337.65 115.95L333.55 115.95Z" fill="none" stroke="#0000ff" stroke-width="1.15"/>
<circle cx="343.6" cy="113.8" r="1.95" fill="none" stroke="#ff0000" stroke-width="1.15"/>
<path d="M306.40 116.35L308.45 119.65L304.35 119.65Z" fill="none" stroke="#0000ff" stroke-width="1.15"/>
<path d="M323.80 116.35L325.85 119.65L321.75 119.65Z" fill="none" stroke="#0000ff" stroke-width="1.15"/>
<path d="M335.90 123.25L337.95 126.55L333.85 126.55Z" fill="none" stroke="#0000ff" stroke-width="1.15"/>
<path d="M311.10 131.05L313.15 134.35L309.05 134.35Z" fill="none" stroke="#0000ff" stroke-width="1.15"/>
<circle cx="333.1" cy="131.8" r="1.95" fill="none" stroke="#ff0000" stroke-width="1.15"/>
<circle cx="330.0" cy="140.2" r="1.95" fill="none" stroke="#ff0000" stroke-width="1.15"/>
<path d="M305.50 78.75L307.55 82.05L303.45 82.05Z" fill="none" stroke="#0000ff" stroke-width="1.15"/>
<path d="M309.80 82.45L311.85 85.75L307.75 85.75Z" fill="none" stroke="#0000ff" stroke-width="1.15"/>
<path d="M317.50 86.75L319.55 90.05L315.45 90.05Z" fill="none" stroke="#0000ff" stroke-width="1.15"/>
<path d="M321.50 89.75L323.55 93.05L319.45 93.05Z" fill="none" stroke="#0000ff" stroke-width="1.15"/>
<path d="M325.80 94.75L327.85 98.05L323.75 98.05Z" fill="none" stroke="#0000ff" stroke-width="1.15"/>
<path d="M329.50 89.05L331.55 92.35L327.45 92.35Z" fill="none" stroke="#0000ff" stroke-width="1.15"/>
<path d="M338.20 93.75L340.25 97.05L336.15 97.05Z" fill="none" stroke="#0000ff" stroke-width="1.15"/>
<path d="M304.00 84.25L306.05 87.55L301.95 87.55Z" fill="none" stroke="#0000ff" stroke-width="1.15"/>
<rect x="116.25" y="208.45" width="4.3" height="4.3" fill="none" stroke="#ffa812" stroke-width="1.26"/>
<rect x="112.55" y="216.35" width="4.3" height="4.3" fill="none" stroke="#ffa812" stroke-width="1.26"/>
<path d="M141.50 209.65L143.95 213.75L139.05 213.75Z" fill="none" stroke="#0000ff" stroke-width="1.1"/>
<circle cx="137.0" cy="219.8" r="2.45" fill="none" stroke="#ff0000" stroke-width="1.1"/>
<circle cx="119.1" cy="227.7" r="2.45" fill="none" stroke="#ff0000" stroke-width="1.1"/>
<circle cx="131.0" cy="231.7" r="2.45" fill="none" stroke="#ff0000" stroke-width="1.1"/>
<path d="M101.50 231.75L103.95 235.85L99.05 235.85Z" fill="none" stroke="#0000ff" stroke-width="1.1"/>
<path d="M122.60 233.75L125.05 237.85L120.15 237.85Z" fill="none" stroke="#0000ff" stroke-width="1.1"/>
<rect x="141.25" y="237.05" width="4.3" height="4.3" fill="none" stroke="#ffa812" stroke-width="1.26"/>
<path d="M112.30 242.95L114.75 247.05L109.85 247.05Z" fill="none" stroke="#0000ff" stroke-width="1.1"/>
<path d="M116.10 246.65L118.55 250.75L113.65 250.75Z" fill="none" stroke="#0000ff" stroke-width="1.1"/>
<circle cx="101.7" cy="250.1" r="2.45" fill="none" stroke="#ff0000" stroke-width="1.1"/>
<path d="M90.30 249.75L92.75 253.85L87.85 253.85Z" fill="none" stroke="#0000ff" stroke-width="1.1"/>
<circle cx="100.4" cy="254.4" r="2.45" fill="none" stroke="#ff0000" stroke-width="1.1"/>
<rect x="107.65" y="250.95" width="4.3" height="4.3" fill="none" stroke="#ffa812" stroke-width="1.26"/>
<rect x="90.75" y="256.05" width="4.3" height="4.3" fill="none" stroke="#ffa812" stroke-width="1.26"/>
<path d="M97.10 268.15L99.55 272.25L94.65 272.25Z" fill="none" stroke="#0000ff" stroke-width="1.1"/>
<circle cx="86.5" cy="281.7" r="2.45" fill="none" stroke="#ff0000" stroke-width="1.1"/>
<rect x="90.15" y="278.85" width="4.3" height="4.3" fill="none" stroke="#ffa812" stroke-width="1.26"/>
<rect x="104.05" y="277.55" width="4.3" height="4.3" fill="none" stroke="#ffa812" stroke-width="1.26"/>
<rect x="81.85" y="307.35" width="4.3" height="4.3" fill="none" stroke="#ffa812" stroke-width="1.26"/>
<circle cx="66.8" cy="316.5" r="2.45" fill="none" stroke="#ff0000" stroke-width="1.1"/>
<path d="M80.40 316.15L82.85 320.25L77.95 320.25Z" fill="none" stroke="#0000ff" stroke-width="1.1"/>
<circle cx="119.5" cy="227.2" r="2.45" fill="none" stroke="#ff0000" stroke-width="1.1"/>
<circle cx="276.7" cy="197.7" r="2.45" fill="none" stroke="#ff0000" stroke-width="1.1"/>
<circle cx="296.8" cy="240.8" r="2.45" fill="none" stroke="#ff0000" stroke-width="1.1"/>
<circle cx="310.9" cy="245.7" r="2.45" fill="none" stroke="#ff0000" stroke-width="1.1"/>
<circle cx="347.0" cy="250.2" r="2.45" fill="none" stroke="#ff0000" stroke-width="1.1"/>
<circle cx="311.8" cy="256.0" r="2.45" fill="none" stroke="#ff0000" stroke-width="1.1"/>
<circle cx="328.7" cy="271.7" r="2.45" fill="none" stroke="#ff0000" stroke-width="1.1"/>
<circle cx="329.6" cy="287.3" r="2.45" fill="none" stroke="#ff0000" stroke-width="1.1"/>
<circle cx="341.4" cy="311.0" r="2.45" fill="none" stroke="#ff0000" stroke-width="1.1"/>
<rect x="291.95" y="203.35" width="4.3" height="4.3" fill="none" stroke="#ffa812" stroke-width="1.26"/>
<rect x="300.65" y="223.45" width="4.3" height="4.3" fill="none" stroke="#ffa812" stroke-width="1.26"/>
<rect x="322.55" y="222.35" width="4.3" height="4.3" fill="none" stroke="#ffa812" stroke-width="1.26"/>
<rect x="314.75" y="249.85" width="4.3" height="4.3" fill="none" stroke="#ffa812" stroke-width="1.26"/>
<rect x="318.05" y="259.75" width="4.3" height="4.3" fill="none" stroke="#ffa812" stroke-width="1.26"/>
<rect x="301.25" y="279.85" width="4.3" height="4.3" fill="none" stroke="#ffa812" stroke-width="1.26"/>
<rect x="326.55" y="285.85" width="4.3" height="4.3" fill="none" stroke="#ffa812" stroke-width="1.26"/>
<rect x="351.55" y="284.75" width="4.3" height="4.3" fill="none" stroke="#ffa812" stroke-width="1.26"/>
<path d="M326.30 240.95L328.75 245.05L323.85 245.05Z" fill="none" stroke="#0000ff" stroke-width="1.1"/>
<path d="M333.00 242.65L335.45 246.75L330.55 246.75Z" fill="none" stroke="#0000ff" stroke-width="1.1"/>
<path d="M307.30 250.25L309.75 254.35L304.85 254.35Z" fill="none" stroke="#0000ff" stroke-width="1.1"/>
<path d="M351.00 266.85L353.45 270.95L348.55 270.95Z" fill="none" stroke="#0000ff" stroke-width="1.1"/>
<path d="M300.80 272.45L303.25 276.55L298.35 276.55Z" fill="none" stroke="#0000ff" stroke-width="1.1"/>
<path d="M311.90 275.85L314.35 279.95L309.45 279.95Z" fill="none" stroke="#0000ff" stroke-width="1.1"/>
<path d="M322.40 278.45L324.85 282.55L319.95 282.55Z" fill="none" stroke="#0000ff" stroke-width="1.1"/>
<rect x="121.5" y="268.5" width="66.4" height="36.6" fill="#fff" stroke="#262626" stroke-width="1"/>
<circle cx="133.6" cy="276.4" r="2.45" fill="none" stroke="#ff0000" stroke-width="1.1"/>
<path d="M133.60 284.45L136.05 288.55L131.15 288.55Z" fill="none" stroke="#0000ff" stroke-width="1.1"/>
<rect x="131.45" y="295.25" width="4.3" height="4.3" fill="none" stroke="#ffa812" stroke-width="1.26"/>
<text x="146.20" y="279.60" font-size="9.1" text-anchor="start" font-weight="bold" fill="#000" >Southeast</text>
<text x="146.20" y="289.90" font-size="9.1" text-anchor="start" font-weight="bold" fill="#000" >Central</text>
<text x="146.20" y="300.60" font-size="9.1" text-anchor="start" font-weight="bold" fill="#000" >Northern</text>
</svg>
</body></html>
